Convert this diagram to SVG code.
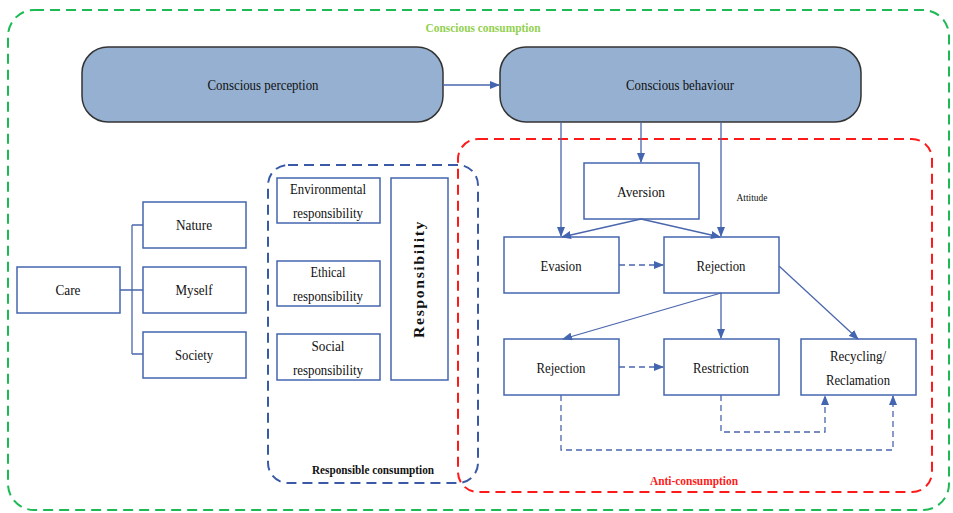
<svg xmlns="http://www.w3.org/2000/svg" width="953" height="513" viewBox="0 0 953 513">
<defs>
<style>
.t{font-family:"Liberation Serif","Times New Roman",serif;fill:#111;text-anchor:middle}
.box{fill:#fff;stroke:#4466b0;stroke-width:1.5}
.pill{fill:#95b0d0;stroke:#333;stroke-width:1.5}
.ln{fill:none;stroke:#4a66ac;stroke-width:1.3}
.dl{fill:none;stroke:#4a66ac;stroke-width:1.3;stroke-dasharray:6,4}
</style>
<marker id="ah" markerWidth="10" markerHeight="8" refX="9" refY="4" orient="auto" markerUnits="userSpaceOnUse">
<path d="M0,0 L10,4 L0,8 Z" fill="#4466b0"/>
</marker>
</defs>
<rect width="953" height="513" fill="#fff"/>
<g id="conscious-consumption">
<rect x="8" y="10" width="941" height="500" rx="26" fill="none" stroke="#1db954" stroke-width="2" stroke-dasharray="10,6"/>
<text class="t" x="483" y="32" font-size="13" font-weight="bold" style="fill:#92d050" textLength="115" lengthAdjust="spacingAndGlyphs">Conscious consumption</text>
</g>
<g id="anti-consumption">
<rect x="458" y="139" width="474" height="353" rx="20" fill="none" stroke="#ff1a1a" stroke-width="2" stroke-dasharray="10,6"/>
<text class="t" x="694" y="485" font-size="13" font-weight="bold" style="fill:#ff1a1a" textLength="88" lengthAdjust="spacingAndGlyphs">Anti-consumption</text>
</g>
<g id="responsible-consumption">
<rect x="268" y="165" width="210" height="318" rx="20" fill="none" stroke="#3a5aa8" stroke-width="2" stroke-dasharray="10,6"/>
<text class="t" x="373" y="474" font-size="13" font-weight="bold" textLength="122" lengthAdjust="spacingAndGlyphs">Responsible consumption</text>
</g>
<g id="conscious-perception">
<rect class="pill" x="82" y="47" width="361" height="75" rx="26"/>
<text class="t" x="263" y="90" font-size="15" textLength="111" lengthAdjust="spacingAndGlyphs">Conscious perception</text>
</g>
<g id="conscious-behaviour">
<rect class="pill" x="500" y="47" width="361" height="75" rx="26"/>
<text class="t" x="680" y="90" font-size="15" textLength="108" lengthAdjust="spacingAndGlyphs">Conscious behaviour</text>
</g>
<g id="care"><rect class="box" x="17" y="267" width="103" height="46"/><text class="t" x="68" y="295" font-size="15" textLength="25" lengthAdjust="spacingAndGlyphs">Care</text></g>
<g id="nature"><rect class="box" x="143" y="202" width="103" height="46"/><text class="t" x="194" y="230" font-size="15" textLength="36" lengthAdjust="spacingAndGlyphs">Nature</text></g>
<g id="myself"><rect class="box" x="143" y="267" width="103" height="46"/><text class="t" x="194" y="295" font-size="15" textLength="37" lengthAdjust="spacingAndGlyphs">Myself</text></g>
<g id="society"><rect class="box" x="143" y="332" width="103" height="46"/><text class="t" x="194" y="360" font-size="15" textLength="38" lengthAdjust="spacingAndGlyphs">Society</text></g>
<g id="environmental"><rect class="box" x="277" y="178" width="103" height="45"/><text class="t" x="328" y="194" font-size="15" textLength="76" lengthAdjust="spacingAndGlyphs">Environmental</text><text class="t" x="328" y="218" font-size="15" textLength="70" lengthAdjust="spacingAndGlyphs">responsibility</text></g>
<g id="ethical"><rect class="box" x="277" y="261" width="103" height="45"/><text class="t" x="328" y="277" font-size="15" textLength="35" lengthAdjust="spacingAndGlyphs">Ethical</text><text class="t" x="328" y="301" font-size="15" textLength="70" lengthAdjust="spacingAndGlyphs">responsibility</text></g>
<g id="social"><rect class="box" x="277" y="334" width="103" height="46"/><text class="t" x="328" y="351" font-size="15" textLength="33" lengthAdjust="spacingAndGlyphs">Social</text><text class="t" x="328" y="375" font-size="15" textLength="70" lengthAdjust="spacingAndGlyphs">responsibility</text></g>
<g id="responsibility"><rect class="box" x="391" y="178" width="57" height="202"/><text class="t" x="0" y="0" font-size="15" font-weight="bold" letter-spacing="1.5" transform="translate(424,279) rotate(-90)" textLength="118" lengthAdjust="spacingAndGlyphs">Responsibility</text></g>
<g id="aversion"><rect class="box" x="584" y="163" width="115" height="56"/><text class="t" x="641" y="197" font-size="15" textLength="48" lengthAdjust="spacingAndGlyphs">Aversion</text></g>
<g id="evasion"><rect class="box" x="504" y="237" width="115" height="56"/><text class="t" x="561" y="271" font-size="15" textLength="41" lengthAdjust="spacingAndGlyphs">Evasion</text></g>
<g id="rejection-top"><rect class="box" x="664" y="237" width="115" height="56"/><text class="t" x="721" y="271" font-size="15" textLength="49" lengthAdjust="spacingAndGlyphs">Rejection</text></g>
<g id="rejection-bottom"><rect class="box" x="504" y="339" width="115" height="56"/><text class="t" x="561" y="373" font-size="15" textLength="49" lengthAdjust="spacingAndGlyphs">Rejection</text></g>
<g id="restriction"><rect class="box" x="664" y="339" width="115" height="56"/><text class="t" x="721" y="373" font-size="15" textLength="56" lengthAdjust="spacingAndGlyphs">Restriction</text></g>
<g id="recycling"><rect class="box" x="801" y="339" width="115" height="56"/><text class="t" x="858" y="361" font-size="15" textLength="56" lengthAdjust="spacingAndGlyphs">Recycling/</text><text class="t" x="858" y="385" font-size="15" textLength="64" lengthAdjust="spacingAndGlyphs">Reclamation</text></g>
<g id="attitude-label"><text class="t" x="752" y="201" font-size="10" textLength="31" lengthAdjust="spacingAndGlyphs">Attitude</text></g>
<g id="connectors">
<path class="ln" d="M443,85 H499" marker-end="url(#ah)"/>
<path class="ln" d="M120,290 H132 M132,225 V354 M132,225 H143 M132,290 H143 M132,354 H143"/>
<path class="ln" d="M561,122 V236" marker-end="url(#ah)"/>
<path class="ln" d="M641,122 V162" marker-end="url(#ah)"/>
<path class="ln" d="M721,122 V236" marker-end="url(#ah)"/>
<path class="ln" d="M641,219 L562,237" marker-end="url(#ah)"/>
<path class="ln" d="M641,219 L720,237" marker-end="url(#ah)"/>
<path class="dl" d="M619,265 H663" marker-end="url(#ah)"/>
<path class="ln" d="M721,293 L563,339" marker-end="url(#ah)"/>
<path class="ln" d="M721,293 V338" marker-end="url(#ah)"/>
<path class="ln" d="M779,266 L858,339" marker-end="url(#ah)"/>
<path class="dl" d="M619,367 H663" marker-end="url(#ah)"/>
<path class="dl" d="M721,395 V432 H825 V396" marker-end="url(#ah)"/>
<path class="dl" d="M561,395 V450 H893 V396" marker-end="url(#ah)"/>
</g>
</svg>
